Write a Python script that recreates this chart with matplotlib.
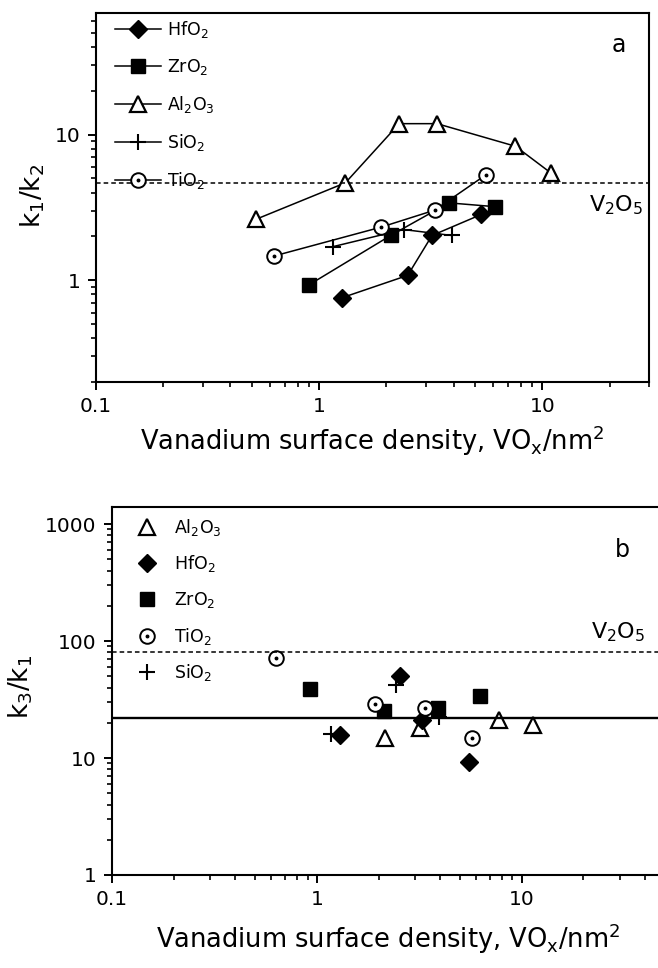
import matplotlib
matplotlib.use("Agg")
import matplotlib.pyplot as plt
from matplotlib.lines import Line2D

plt.rcParams['font.family'] = ['DejaVu Sans']
plt.rcParams['mathtext.default'] = 'regular'

# ---- panel a data (k1/k2) ----
hf_x_a = [1.27, 2.49, 3.2, 5.32]
hf_y_a = [0.76, 1.08, 2.03, 2.83]
zr_x_a = [0.90, 2.10, 3.81, 6.15]
zr_y_a = [0.93, 2.04, 3.40, 3.2]
al_x_a = [0.52, 1.31, 2.28, 3.37, 7.57, 10.9]
al_y_a = [2.62, 4.67, 11.9, 11.9, 8.32, 5.46]
si_x_a = [1.15, 2.39, 3.92]
si_y_a = [1.70, 2.23, 2.03]
ti_x_a = [0.63, 1.90, 3.29, 5.6]
ti_y_a = [1.47, 2.32, 3.03, 5.32]
v2o5_a = 4.64

# ---- panel b data (k3/k1) ----
al_x_b = [2.14, 3.18, 7.76, 11.3]
al_y_b = [14.9, 18.1, 21.1, 19.2]
hf_x_b = [1.29, 2.54, 3.25, 5.51]
hf_y_b = [15.7, 50.6, 21.1, 9.24]
zr_x_b = [0.93, 2.12, 3.91, 6.27]
zr_y_b = [39, 25.2, 27, 33.6]
ti_x_b = [0.63, 1.92, 3.37, 5.73]
ti_y_b = [71, 28.8, 26.6, 14.9]
si_x_b = [1.17, 2.44, 3.94]
si_y_b = [15.9, 41.8, 22.6]
v2o5_b = 81
mean_b = 22.1

x_ticks = [0.1, 1, 10]
x_ticklabels = ['0.1', '1', '10']
xlabel_text = 'Vanadium surface density, VO$_x$/nm$^2$'

fig = plt.figure(figsize=(6.58, 9.68), dpi=100)

W, H = 658.0, 968.0
def box(l, t, r, b):
    return [l / W, 1 - b / H, (r - l) / W, (b - t) / H]

ax1 = fig.add_axes(box(96, 13, 649, 382))
ax2 = fig.add_axes(box(112, 507, 665, 875))

lw = 1.1
k = 'black'
st_d = dict(marker='D', ms=9.5, mfc=k, mec=k)
st_s = dict(marker='s', ms=9.5, mfc=k, mec=k)
st_t = dict(marker='^', ms=12, mfc='white', mec=k, mew=1.6)
st_p = dict(marker='+', ms=12, mec=k, mew=1.5)
st_o = dict(marker='o', ms=10.5, mfc='white', mec=k, mew=1.4)
st_dot = dict(marker='o', ms=1.8, mfc=k, mec=k)

# ---- panel a ----
h_hf, = ax1.plot(hf_x_a, hf_y_a, '-', color=k, lw=lw, **st_d)
h_zr, = ax1.plot(zr_x_a, zr_y_a, '-', color=k, lw=lw, **st_s)
h_al, = ax1.plot(al_x_a, al_y_a, '-', color=k, lw=lw, **st_t)
h_si, = ax1.plot(si_x_a, si_y_a, '-', color=k, lw=lw, **st_p)
h_ti, = ax1.plot(ti_x_a, ti_y_a, '-', color=k, lw=lw, **st_o)
ax1.plot(ti_x_a, ti_y_a, ls='none', **st_dot)
ax1.axhline(v2o5_a, color=k, lw=1.1, ls=(0, (3, 2)))

dot_a = Line2D([], [], ls='none', **st_dot)
ax1.legend([h_hf, h_zr, h_al, h_si, (h_ti, dot_a)],
           ['HfO$_2$', 'ZrO$_2$', 'Al$_2$O$_3$', 'SiO$_2$', 'TiO$_2$'],
           loc='upper left', bbox_to_anchor=(0.004, 1.0 + 10 / 369.0), frameon=False,
           fontsize=12.5, handlelength=2.65, handletextpad=0.35,
           labelspacing=0.97, borderaxespad=0.55, borderpad=0.4, numpoints=1)

ax1.set_xscale('log')
ax1.set_yscale('log')
ax1.set_xlim(0.1, 30)
ax1.set_ylim(0.2, 68.5)
ax1.set_xticks(x_ticks)
ax1.set_xticklabels(x_ticklabels)
ax1.set_yticks([1, 10])
ax1.set_yticklabels(['1', '10'])
ax1.text(619 / W, 1 - 45 / H, 'a', transform=fig.transFigure, fontsize=17,
         ha='center', va='center')
ax1.text(643 / W, 1 - 205 / H, 'V$_2$O$_5$', transform=fig.transFigure, fontsize=16,
         ha='right', va='center')
ax1.set_xlabel(xlabel_text, fontsize=18.5, va='baseline')
ax1.xaxis.set_label_coords(0.5, -(450 - 382) / 369.0)
ax1.set_ylabel('k$_1$/k$_2$', fontsize=19)
ax1.yaxis.set_label_coords((47 - 96) / 553.0, 0.504)

# ---- panel b ----
s_al, = ax2.plot(al_x_b, al_y_b, ls='none', **st_t)
s_hf, = ax2.plot(hf_x_b, hf_y_b, ls='none', **st_d)
s_zr, = ax2.plot(zr_x_b, zr_y_b, ls='none', **st_s)
s_ti, = ax2.plot(ti_x_b, ti_y_b, ls='none', **st_o)
ax2.plot(ti_x_b, ti_y_b, ls='none', **st_dot)
s_si, = ax2.plot(si_x_b, si_y_b, ls='none', **st_p)
ax2.axhline(v2o5_b, color=k, lw=1.1, ls=(0, (3, 2)))
ax2.axhline(mean_b, color=k, lw=1.7, ls='-')

dot_b = Line2D([], [], ls='none', **st_dot)
ax2.legend([s_al, s_hf, s_zr, (s_ti, dot_b), s_si],
           ['Al$_2$O$_3$', 'HfO$_2$', 'ZrO$_2$', 'TiO$_2$', 'SiO$_2$'],
           loc='upper left', bbox_to_anchor=(0.0, 1.0 + 12 / 368.0), frameon=False,
           fontsize=12.5, handlelength=1.5, handletextpad=0.8,
           labelspacing=0.9, borderaxespad=0.85, borderpad=0.4, numpoints=1)

ax2.set_xscale('log')
ax2.set_yscale('log')
ax2.set_xlim(0.1, 50)
ax2.set_ylim(1, 1400)
ax2.set_xticks(x_ticks)
ax2.set_xticklabels(x_ticklabels)
ax2.set_yticks([1, 10, 100, 1000])
ax2.set_yticklabels(['1', '10', '100', '1000'])
ax2.spines['right'].set_visible(False)
ax2.text(622 / W, 1 - 550 / H, 'b', transform=fig.transFigure, fontsize=17,
         ha='center', va='center')
ax2.text(645 / W, 1 - 632 / H, 'V$_2$O$_5$', transform=fig.transFigure, fontsize=16,
         ha='right', va='center')
ax2.set_xlabel(xlabel_text, fontsize=18.5, va='baseline')
ax2.xaxis.set_label_coords(0.5, -(948 - 875) / 368.0)
ax2.set_ylabel('k$_3$/k$_1$', fontsize=19)
ax2.yaxis.set_label_coords((35 - 112) / 553.0, 0.511)

for ax in (ax1, ax2):
    for sp in ax.spines.values():
        sp.set_linewidth(1.5)
    ax.tick_params(which='major', direction='out', length=6, width=1.4, labelsize=14.5, pad=5,
                   top=False, right=False)
    ax.tick_params(which='minor', direction='out', length=3.6, width=1.2,
                   top=False, right=False)

fig.savefig('out.png', dpi=100)
